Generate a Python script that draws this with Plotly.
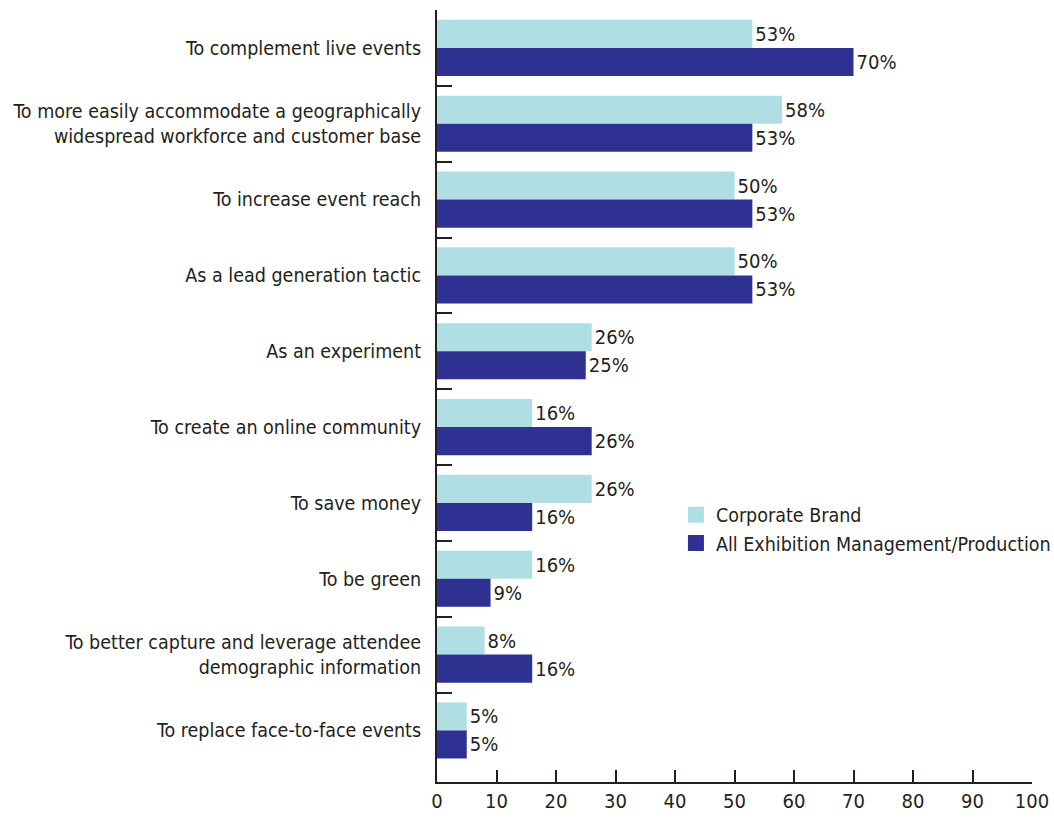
import plotly.graph_objects as go

categories = [
    "To complement live events",
    "To more easily accommodate a geographically<br>widespread workforce and customer base",
    "To increase event reach",
    "As a lead generation tactic",
    "As an experiment",
    "To create an online community",
    "To save money",
    "To be green",
    "To better capture and leverage attendee<br>demographic information",
    "To replace face-to-face events",
]
corporate_brand = [53, 58, 50, 50, 26, 16, 26, 16, 8, 5]
exhibition_mgmt = [70, 53, 53, 53, 25, 26, 16, 9, 16, 5]
x_ticks = [0, 10, 20, 30, 40, 50, 60, 70, 80, 90, 100]

LIGHT = "#B0DFE3"
DARK = "#2E3192"
TEXT = "#231F20"
FONT = "DejaVu Sans Condensed, Liberation Sans Narrow, Arial Narrow, sans-serif"

positions = list(range(len(categories)))
boundaries = [p - 0.5 for p in positions]
y_range = [len(categories) - 0.32, -0.5]

fig = go.Figure()
for name, vals, col in [("Corporate Brand", corporate_brand, LIGHT),
                        ("All Exhibition Management/Production", exhibition_mgmt, DARK)]:
    fig.add_trace(go.Bar(
        y=positions, x=vals, orientation="h", name=name,
        marker=dict(color=col, line=dict(width=0)),
        text=[f"{v}%" for v in vals], textposition="outside",
        textfont=dict(family=FONT, size=20, color=TEXT),
        cliponaxis=False, showlegend=False,
    ))
    fig.add_trace(go.Scatter(
        x=[None], y=[None], mode="markers", name=name,
        marker=dict(symbol="square", size=20, color=col),
    ))

# invisible helper trace so the boundary-tick axis is drawn
fig.add_trace(go.Scatter(x=[None], y=[None], yaxis="y2", showlegend=False,
                         hoverinfo="skip"))

fig.update_layout(
    width=1054, height=819,
    margin=dict(l=437, r=22, t=10, b=37, autoexpand=False),
    paper_bgcolor="white", plot_bgcolor="white",
    barmode="group", bargap=0.26, bargroupgap=0,
    font=dict(family=FONT, size=20, color=TEXT),
    legend=dict(xref="container", yref="container", x=0.6413, y=0.395,
                xanchor="left", yanchor="top",
                bgcolor="rgba(0,0,0,0)", itemsizing="trace",
                font=dict(family=FONT, size=19.5, color=TEXT),
                tracegroupgap=0),
    xaxis=dict(
        range=[0, 100], tickvals=x_ticks, ticks="inside", ticklen=12,
        tickwidth=2, tickcolor=TEXT, showline=True, linewidth=2, linecolor=TEXT,
        showgrid=False, zeroline=False, tickfont=dict(size=20), automargin=False,
    ),
    yaxis=dict(
        range=y_range, tickvals=positions, ticktext=categories, ticks="",
        showline=True, linewidth=2, linecolor=TEXT, showgrid=False,
        zeroline=False, ticklabelstandoff=10, tickfont=dict(size=19.5),
        automargin=False,
    ),
    yaxis2=dict(
        overlaying="y", side="left", range=y_range, tickvals=boundaries,
        ticks="inside", ticklen=15, tickwidth=2, tickcolor=TEXT,
        showticklabels=False, showline=False, showgrid=False, zeroline=False,
        automargin=False,
    ),
)

fig.write_html(
    "out.html",
    config={"displayModeBar": False},
    post_script="document.body.style.margin='0';document.body.style.overflow='hidden';",
)
